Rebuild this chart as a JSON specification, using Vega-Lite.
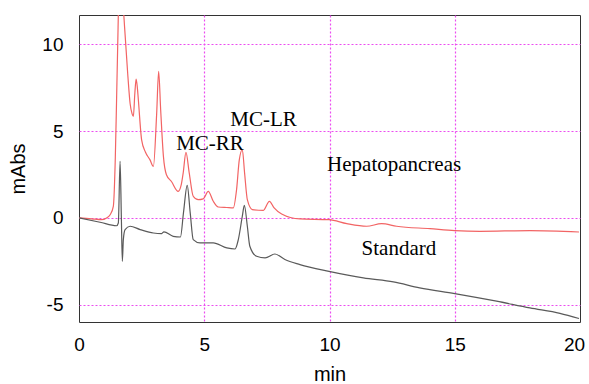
{
  "$schema": "https://vega.github.io/schema/vega-lite/v6.json",
  "width": 501,
  "height": 307,
  "autosize": "none",
  "padding": {"left": 79, "top": 15, "right": 9, "bottom": 62},
  "background": "white",
  "config": {
    "view": {"stroke": "#333333", "strokeWidth": 1},
    "axis": {
      "labelFont": "Liberation Sans",
      "titleFont": "Liberation Sans",
      "labelFontSize": 19,
      "titleFontSize": 20,
      "titleFontWeight": "normal",
      "labelColor": "#000000",
      "titleColor": "#000000",
      "domain": false,
      "ticks": false,
      "gridColor": "#ec4cf0",
      "gridDash": [2, 2],
      "gridWidth": 1.2,
      "gridOpacity": 1
    }
  },
  "datasets": {
    "traces": [
      {"t": 0, "v": 0, "s": "Hepatopancreas"},
      {"t": 0.5, "v": -0.05, "s": "Hepatopancreas"},
      {"t": 0.9, "v": -0.1, "s": "Hepatopancreas"},
      {"t": 1.1, "v": 0.0, "s": "Hepatopancreas"},
      {"t": 1.25, "v": 0.2, "s": "Hepatopancreas"},
      {"t": 1.37, "v": 0.67, "s": "Hepatopancreas"},
      {"t": 1.45, "v": 3.5, "s": "Hepatopancreas"},
      {"t": 1.5, "v": 6.8, "s": "Hepatopancreas"},
      {"t": 1.56, "v": 11.0, "s": "Hepatopancreas"},
      {"t": 1.62, "v": 15.0, "s": "Hepatopancreas"},
      {"t": 1.7, "v": 15.0, "s": "Hepatopancreas"},
      {"t": 1.76, "v": 12.5, "s": "Hepatopancreas"},
      {"t": 1.82, "v": 11.0, "s": "Hepatopancreas"},
      {"t": 1.95, "v": 8.2, "s": "Hepatopancreas"},
      {"t": 2.04, "v": 6.6, "s": "Hepatopancreas"},
      {"t": 2.12, "v": 6.0, "s": "Hepatopancreas"},
      {"t": 2.17, "v": 5.86, "s": "Hepatopancreas"},
      {"t": 2.23, "v": 7.2, "s": "Hepatopancreas"},
      {"t": 2.28, "v": 8.0, "s": "Hepatopancreas"},
      {"t": 2.33, "v": 7.5, "s": "Hepatopancreas"},
      {"t": 2.37, "v": 6.8, "s": "Hepatopancreas"},
      {"t": 2.5, "v": 4.5, "s": "Hepatopancreas"},
      {"t": 2.65, "v": 3.8, "s": "Hepatopancreas"},
      {"t": 2.83, "v": 3.36, "s": "Hepatopancreas"},
      {"t": 2.97, "v": 2.97, "s": "Hepatopancreas"},
      {"t": 3.1, "v": 6.0, "s": "Hepatopancreas"},
      {"t": 3.18, "v": 8.45, "s": "Hepatopancreas"},
      {"t": 3.26, "v": 6.24, "s": "Hepatopancreas"},
      {"t": 3.37, "v": 3.55, "s": "Hepatopancreas"},
      {"t": 3.49, "v": 2.49, "s": "Hepatopancreas"},
      {"t": 3.69, "v": 2.1, "s": "Hepatopancreas"},
      {"t": 3.96, "v": 1.53, "s": "Hepatopancreas"},
      {"t": 4.08, "v": 1.9, "s": "Hepatopancreas"},
      {"t": 4.16, "v": 2.6, "s": "Hepatopancreas"},
      {"t": 4.27, "v": 3.78, "s": "Hepatopancreas"},
      {"t": 4.4, "v": 2.6, "s": "Hepatopancreas"},
      {"t": 4.56, "v": 1.25, "s": "Hepatopancreas"},
      {"t": 4.76, "v": 1.05, "s": "Hepatopancreas"},
      {"t": 4.96, "v": 1.1, "s": "Hepatopancreas"},
      {"t": 5.16, "v": 1.53, "s": "Hepatopancreas"},
      {"t": 5.36, "v": 0.96, "s": "Hepatopancreas"},
      {"t": 5.56, "v": 0.63, "s": "Hepatopancreas"},
      {"t": 5.9, "v": 0.6, "s": "Hepatopancreas"},
      {"t": 6.16, "v": 0.58, "s": "Hepatopancreas"},
      {"t": 6.29, "v": 1.63, "s": "Hepatopancreas"},
      {"t": 6.4, "v": 3.36, "s": "Hepatopancreas"},
      {"t": 6.52, "v": 3.93, "s": "Hepatopancreas"},
      {"t": 6.61, "v": 2.6, "s": "Hepatopancreas"},
      {"t": 6.72, "v": 1.05, "s": "Hepatopancreas"},
      {"t": 6.92, "v": 0.48, "s": "Hepatopancreas"},
      {"t": 7.36, "v": 0.44, "s": "Hepatopancreas"},
      {"t": 7.6, "v": 0.96, "s": "Hepatopancreas"},
      {"t": 7.79, "v": 0.58, "s": "Hepatopancreas"},
      {"t": 8.09, "v": 0.23, "s": "Hepatopancreas"},
      {"t": 8.82, "v": -0.06, "s": "Hepatopancreas"},
      {"t": 9.98, "v": -0.1, "s": "Hepatopancreas"},
      {"t": 10.69, "v": -0.33, "s": "Hepatopancreas"},
      {"t": 11.48, "v": -0.48, "s": "Hepatopancreas"},
      {"t": 12.08, "v": -0.33, "s": "Hepatopancreas"},
      {"t": 12.68, "v": -0.48, "s": "Hepatopancreas"},
      {"t": 14.01, "v": -0.62, "s": "Hepatopancreas"},
      {"t": 15.0, "v": -0.73, "s": "Hepatopancreas"},
      {"t": 16.0, "v": -0.77, "s": "Hepatopancreas"},
      {"t": 18.0, "v": -0.73, "s": "Hepatopancreas"},
      {"t": 19.96, "v": -0.81, "s": "Hepatopancreas"},
      {"t": 0, "v": 0, "s": "Standard"},
      {"t": 0.84, "v": -0.25, "s": "Standard"},
      {"t": 1.5, "v": -0.45, "s": "Standard"},
      {"t": 1.57, "v": -0.29, "s": "Standard"},
      {"t": 1.64, "v": 3.26, "s": "Standard"},
      {"t": 1.69, "v": 0.1, "s": "Standard"},
      {"t": 1.73, "v": -2.5, "s": "Standard"},
      {"t": 1.77, "v": -1.25, "s": "Standard"},
      {"t": 1.84, "v": -0.67, "s": "Standard"},
      {"t": 2.04, "v": -0.48, "s": "Standard"},
      {"t": 2.44, "v": -0.67, "s": "Standard"},
      {"t": 2.97, "v": -0.87, "s": "Standard"},
      {"t": 3.3, "v": -0.9, "s": "Standard"},
      {"t": 3.39, "v": -0.8, "s": "Standard"},
      {"t": 3.76, "v": -1.06, "s": "Standard"},
      {"t": 4.05, "v": -1.1, "s": "Standard"},
      {"t": 4.17, "v": 0.29, "s": "Standard"},
      {"t": 4.32, "v": 1.88, "s": "Standard"},
      {"t": 4.44, "v": 0.29, "s": "Standard"},
      {"t": 4.56, "v": -1.25, "s": "Standard"},
      {"t": 4.83, "v": -1.44, "s": "Standard"},
      {"t": 5.36, "v": -1.44, "s": "Standard"},
      {"t": 5.9, "v": -1.73, "s": "Standard"},
      {"t": 6.23, "v": -1.79, "s": "Standard"},
      {"t": 6.36, "v": -1.25, "s": "Standard"},
      {"t": 6.52, "v": 0.1, "s": "Standard"},
      {"t": 6.6, "v": 0.73, "s": "Standard"},
      {"t": 6.72, "v": -0.48, "s": "Standard"},
      {"t": 6.82, "v": -1.63, "s": "Standard"},
      {"t": 7.09, "v": -2.21, "s": "Standard"},
      {"t": 7.43, "v": -2.3, "s": "Standard"},
      {"t": 7.82, "v": -2.08, "s": "Standard"},
      {"t": 8.22, "v": -2.4, "s": "Standard"},
      {"t": 8.82, "v": -2.69, "s": "Standard"},
      {"t": 9.98, "v": -3.08, "s": "Standard"},
      {"t": 11.35, "v": -3.46, "s": "Standard"},
      {"t": 12.55, "v": -3.69, "s": "Standard"},
      {"t": 13.6, "v": -4.03, "s": "Standard"},
      {"t": 15.0, "v": -4.36, "s": "Standard"},
      {"t": 16.67, "v": -4.8, "s": "Standard"},
      {"t": 18.0, "v": -5.19, "s": "Standard"},
      {"t": 19.2, "v": -5.5, "s": "Standard"},
      {"t": 19.96, "v": -5.8, "s": "Standard"}
    ],
    "labels": [
      {"t": 5.23, "v": 3.94, "label": "MC-RR"},
      {"t": 7.37, "v": 5.28, "label": "MC-LR"},
      {"t": 12.58, "v": 2.69, "label": "Hepatopancreas"},
      {"t": 12.77, "v": -2.12, "label": "Standard"}
    ]
  },
  "layer": [
    {
      "data": {"name": "traces"},
      "mark": {"type": "line", "strokeWidth": 1.2, "clip": true, "interpolate": "monotone"},
      "encoding": {
        "x": {
          "field": "t", "type": "quantitative",
          "scale": {"domain": [0, 20], "nice": false},
          "axis": {
            "title": "min", "values": [0, 5, 10, 15, 20],
            "labelPadding": 13, "titlePadding": 10, "labelFlush": false,
            "labelOffset": {"condition": {"test": "datum.value == 20", "value": -6}, "value": 0},
            "gridOpacity": {"condition": {"test": "datum.value == 0 || datum.value == 20", "value": 0}, "value": 1}
          }
        },
        "y": {
          "field": "v", "type": "quantitative",
          "scale": {"domain": [-6, 11.7], "nice": false, "zero": false},
          "axis": {
            "title": "mAbs", "values": [-5, 0, 5, 10],
            "labelExpr": "datum.value < 0 ? '-' + abs(datum.value) : datum.label",
            "labelPadding": 16, "titlePadding": 13
          }
        },
        "color": {
          "field": "s", "type": "nominal",
          "scale": {"domain": ["Hepatopancreas", "Standard"], "range": ["#f26464", "#5a5a5a"]},
          "legend": null
        },
        "detail": {"field": "s"}
      }
    },
    {
      "data": {"name": "labels"},
      "mark": {"type": "text", "font": "Liberation Serif", "fontSize": 21, "align": "center", "baseline": "alphabetic", "color": "#000000"},
      "encoding": {
        "x": {"field": "t", "type": "quantitative"},
        "y": {"field": "v", "type": "quantitative"},
        "text": {"field": "label"}
      }
    }
  ]
}
